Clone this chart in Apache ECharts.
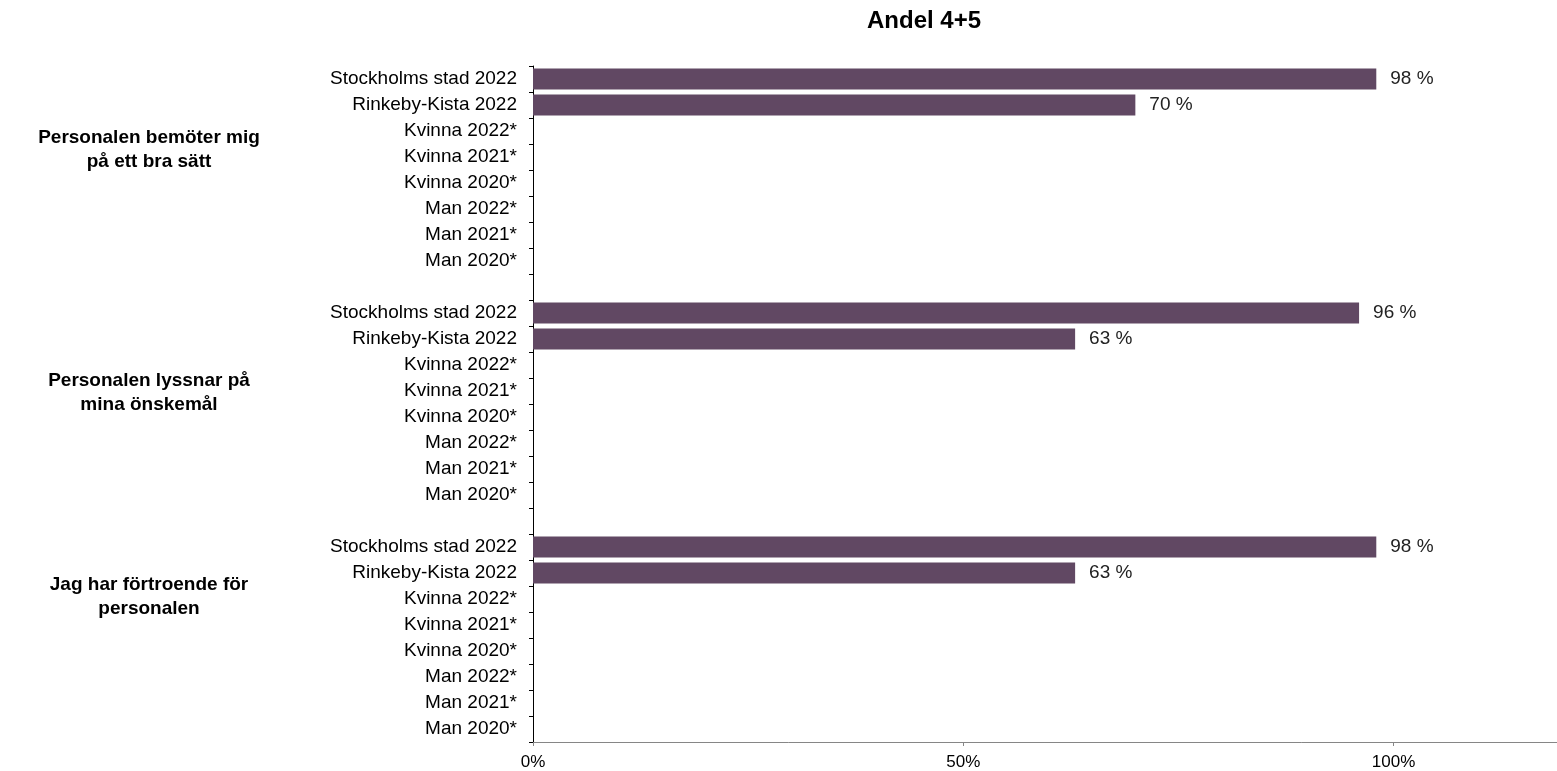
<!DOCTYPE html>
<html>
<head>
<meta charset="utf-8">
<script src="https://cdn.jsdelivr.net/npm/echarts@6/dist/echarts.min.js"></script>
<style>
html,body{margin:0;padding:0;background:#fff;}
#chart{width:1557px;height:771px;}
</style>
</head>
<body>
<div id="chart"></div>
<script>
const titleText = 'Andel 4+5';
const groupNames = ['Personalen bemöter mig\npå ett bra sätt', 'Personalen lyssnar på\nmina önskemål', 'Jag har förtroende för\npersonalen'];
const rowLabels = ['Stockholms stad 2022', 'Rinkeby-Kista 2022', 'Kvinna 2022*', 'Kvinna 2021*', 'Kvinna 2020*', 'Man 2022*', 'Man 2021*', 'Man 2020*'];
const group1Values = [98, 70, null, null, null, null, null, null];
const group2Values = [96, 63, null, null, null, null, null, null];
const group3Values = [98, 63, null, null, null, null, null, null];
const xTicks = [0, 50, 100];

const groupValues = [group1Values, group2Values, group3Values];
const categories = [];
const values = [];
groupValues.forEach((g, gi) => {
  if (gi > 0) { categories.push(''); values.push(null); }
  rowLabels.forEach((r, i) => { categories.push(r); values.push(g[i]); });
});

const FONT = 'Liberation Sans, Arial, sans-serif';
const chart = echarts.init(document.getElementById('chart'));
const groupY = [150, 393, 597];
chart.setOption({
  animation: false,
  title: {
    text: titleText,
    left: 919, top: 4, textAlign: 'center',
    textStyle: { fontFamily: FONT, fontSize: 24, fontWeight: 'bold', color: '#000' }
  },
  grid: { left: 533, right: 0, top: 66, bottom: 29, containLabel: false },
  xAxis: {
    type: 'value', min: 0, max: 119, interval: 50,
    splitLine: { show: false },
    axisLine: { show: true, lineStyle: { color: '#868686', width: 1 } },
    axisTick: { show: true, length: 4, customValues: xTicks, lineStyle: { color: '#868686' } },
    axisLabel: { customValues: xTicks, formatter: v => v + '%', margin: 12, fontFamily: FONT, fontSize: 17, color: '#000' }
  },
  yAxis: {
    type: 'category', data: categories, inverse: true,
    axisLine: { show: true, lineStyle: { color: '#000', width: 1 } },
    axisTick: { show: true, length: 4, lineStyle: { color: '#000' } },
    axisLabel: { margin: 16, fontFamily: FONT, fontSize: 19, color: '#000', interval: 0 }
  },
  series: [{
    type: 'bar', data: values, barWidth: 21,
    itemStyle: { color: '#614863' },
    label: { show: true, position: 'right', distance: 14, formatter: p => p.value + ' %', fontFamily: FONT, fontSize: 19, color: '#222' }
  }],
  graphic: groupNames.map((g, i) => ({
    type: 'text', x: 149, y: groupY[i],
    style: { text: g, textAlign: 'center', textVerticalAlign: 'middle', fontFamily: FONT, fontSize: 19, fontWeight: 'bold', fill: '#000', lineHeight: 24 }
  }))
});
</script>
</body>
</html>
